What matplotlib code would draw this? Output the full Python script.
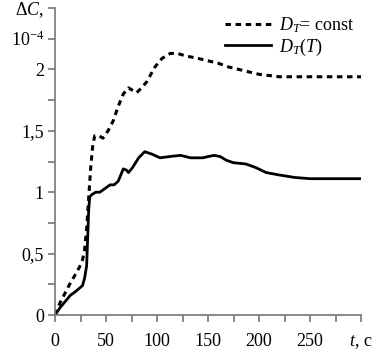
import matplotlib.pyplot as plt

plt.rcParams["font.family"] = ["Liberation Serif", "DejaVu Serif"]
plt.rcParams["mathtext.fontset"] = "custom"
plt.rcParams["mathtext.rm"] = "Liberation Serif"
plt.rcParams["mathtext.it"] = "Liberation Serif:italic"

# D_T = const (dashed), units of 1e-4
t_const = [0, 5, 10, 15, 20, 24, 27, 29, 31, 33, 35, 37, 39, 43, 47, 52, 57, 62, 67,
           72, 76, 80, 85, 90, 98, 105, 113, 120, 128, 140, 150, 160, 170, 180,
           190, 200, 210, 220, 230, 250, 270, 300]
dc_const = [0, 0.1, 0.18, 0.26, 0.33, 0.39, 0.45, 0.53, 0.7, 0.95, 1.2, 1.38, 1.46,
            1.46, 1.44, 1.5, 1.58, 1.7, 1.8, 1.85, 1.83, 1.81, 1.85, 1.9, 2.02,
            2.09, 2.13, 2.13, 2.11, 2.09, 2.07, 2.05, 2.02, 2.0, 1.98, 1.96, 1.95,
            1.94, 1.94, 1.94, 1.94, 1.94]

# D_T(T) (solid)
t_var = [0, 5, 10, 15, 20, 27, 29, 31, 32, 33, 34, 36, 40, 44, 49, 54, 58, 62, 65,
         67, 70, 72, 76, 82, 88, 95, 103, 112, 123, 133, 145, 150, 156, 162,
         168, 175, 187, 197, 207, 220, 235, 250, 270, 300]
dc_var = [0, 0.06, 0.11, 0.16, 0.19, 0.24, 0.3, 0.4, 0.62, 0.85, 0.96, 0.98, 1.0,
          1.0, 1.03, 1.06, 1.06, 1.09, 1.15, 1.19, 1.18, 1.16, 1.2, 1.28, 1.33,
          1.31, 1.28, 1.29, 1.3, 1.28, 1.28, 1.29, 1.30, 1.29, 1.26, 1.24, 1.23,
          1.2, 1.16, 1.14, 1.12, 1.11, 1.11, 1.11]

fig = plt.figure(figsize=(3.72, 3.51), dpi=100)
ax = fig.add_axes([55 / 372, 36 / 351, 306 / 372, 307 / 351])

ax.plot(t_const, dc_const, color="black", lw=2.2, linestyle=(0, (1.8, 1.5)),
        label=r"$D_T$= const")
ax.plot(t_var, dc_var, color="black", lw=2.0, label=r"$D_T(T)$")

ax.set_xlim(0, 300)
ax.set_ylim(0, 2.5)

ax.set_xticks([0, 25, 50, 75, 100, 125, 150, 175, 200, 225, 250, 275, 300])
ax.set_xticklabels(["0", "", "50", "", "100", "", "150", "", "200", "", "250", "",
                    r"$t$, c"])
ax.set_yticks([0, 0.25, 0.5, 0.75, 1, 1.25, 1.5, 1.75, 2, 2.25, 2.5])
ax.set_yticklabels(["0", "", "0,5", "", "1", "", "1,5", "", "2",
                    r"10$^{-4}$", r"$\Delta C$,"])

ax.spines["top"].set_visible(False)
ax.spines["right"].set_visible(False)
for s in ["left", "bottom"]:
    ax.spines[s].set_color("#777777")
    ax.spines[s].set_linewidth(1.2)
ax.tick_params(direction="out", length=5, width=1.2, color="#777777",
               labelsize=13, pad=3)
ax.tick_params(axis="x", pad=8)

ax.legend(loc="upper right", bbox_to_anchor=(1.03, 1.03), frameon=False,
          fontsize=13, handlelength=2.6, handletextpad=0.4, labelspacing=0.1)

fig.savefig("out.png", dpi=100)
